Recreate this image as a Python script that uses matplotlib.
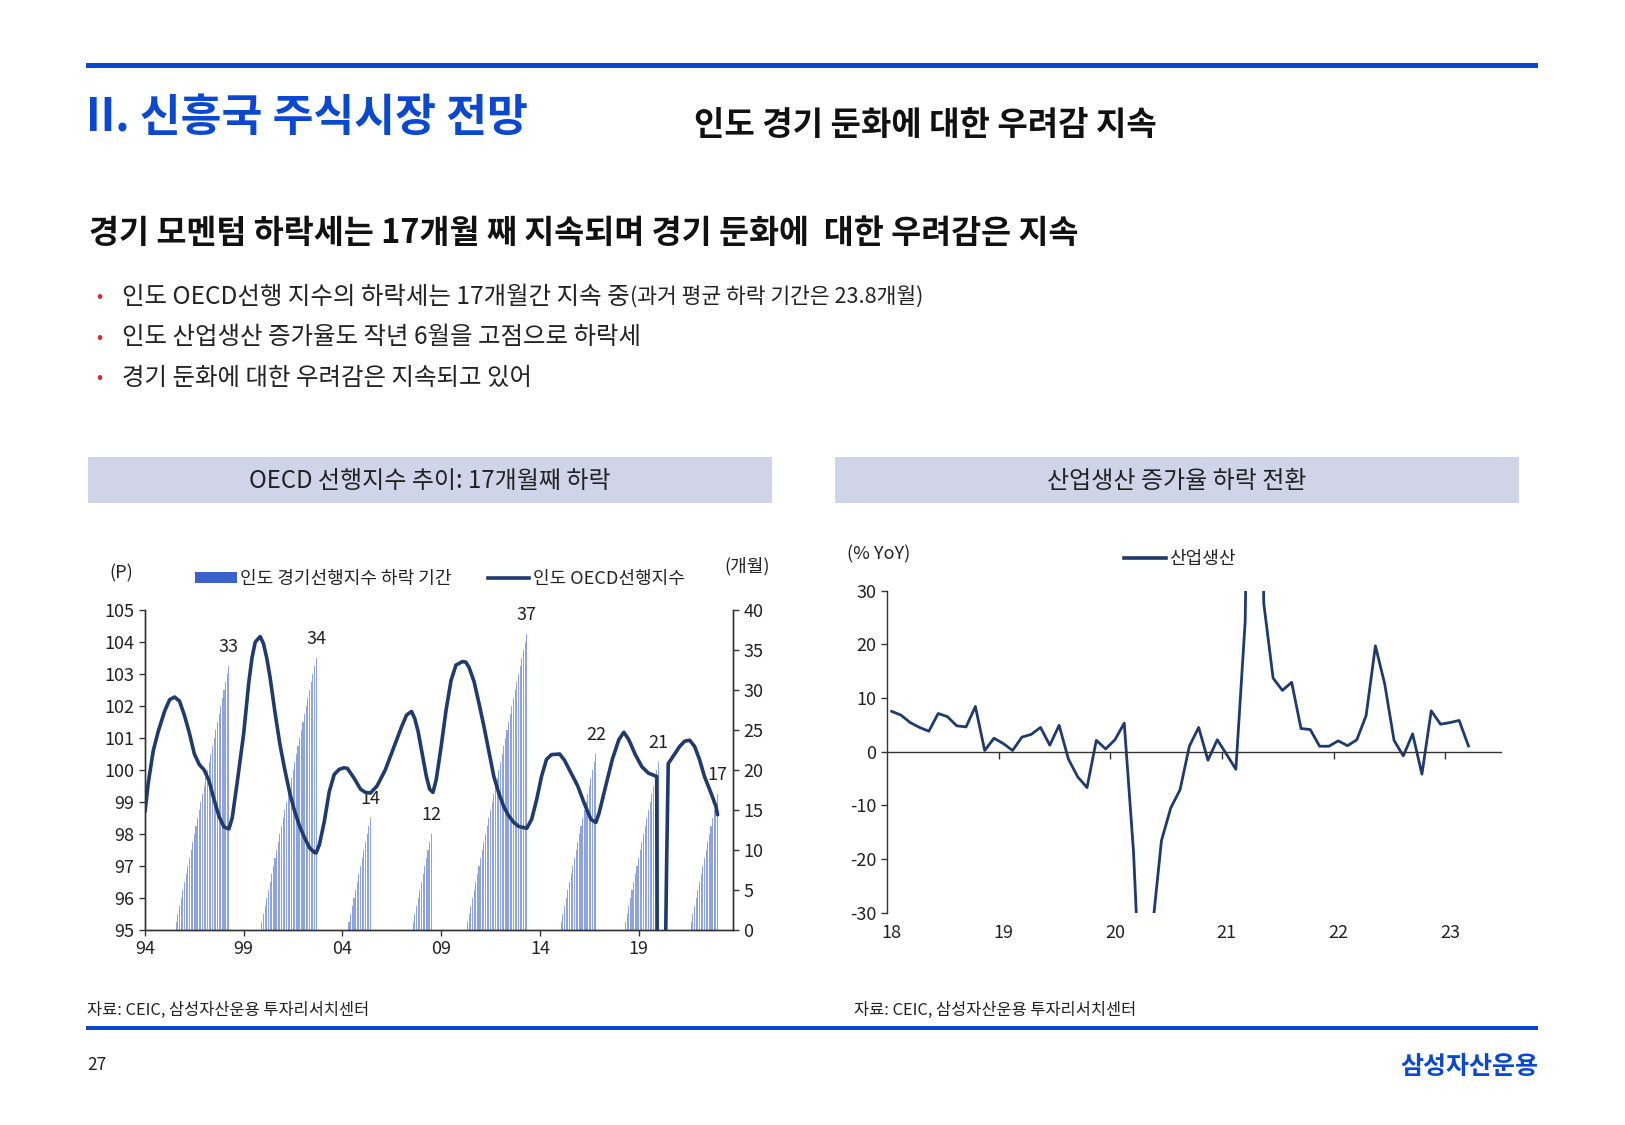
import matplotlib.pyplot as plt
import matplotlib.transforms as mtransforms
from matplotlib.patches import Rectangle, Patch
from matplotlib.lines import Line2D

plt.rcParams['font.family'] = ['Noto Sans CJK KR', 'DejaVu Sans']
plt.rcParams['axes.unicode_minus'] = False

W, H = 1625, 1125
BLUE = '#0b48d1'
NAVY = '#1f3a6e'
TXT = '#222222'

# ---- 왼쪽: 인도 OECD 선행지수 (월, 값) ----
cli_months = ['1994-01', '1994-03', '1994-06', '1994-09', '1995-01', '1995-04', '1995-07',
              '1995-10', '1996-01', '1996-04', '1996-07', '1996-10', '1997-01', '1997-04',
              '1997-07', '1997-10', '1998-01', '1998-04', '1998-06', '1998-09', '1999-01',
              '1999-04', '1999-06', '1999-08', '1999-11', '2000-01', '2000-03', '2000-05',
              '2000-08', '2000-11', '2001-02', '2001-05', '2001-08', '2001-11', '2002-02',
              '2002-05', '2002-08', '2002-09', '2002-11', '2003-02', '2003-05', '2003-08',
              '2003-11', '2004-02', '2004-04', '2004-08', '2004-12', '2005-03', '2005-06',
              '2005-10', '2006-03', '2006-08', '2007-01', '2007-04', '2007-07', '2007-09',
              '2007-11', '2008-01', '2008-04', '2008-06', '2008-08', '2008-10', '2009-01',
              '2009-04', '2009-07', '2009-10', '2010-02', '2010-04', '2010-06', '2010-09',
              '2010-12', '2011-03', '2011-06', '2011-09', '2011-12', '2012-03', '2012-06',
              '2012-09', '2012-12', '2013-03', '2013-05', '2013-08', '2013-11', '2014-02',
              '2014-05', '2014-08', '2015-01', '2015-04', '2015-07', '2015-12', '2016-04',
              '2016-08', '2016-11', '2017-01', '2017-05', '2017-09', '2018-01', '2018-04',
              '2018-07', '2018-11', '2019-03', '2019-07', '2019-12', '2020-01', '2020-03',
              '2020-05', '2020-06', '2020-07', '2020-10', '2021-02', '2021-05', '2021-08',
              '2021-11', '2022-02', '2022-05', '2022-09', '2022-12', '2023-01']
cli_values = [98.7, 99.6, 100.6, 101.2, 101.85, 102.2, 102.28,
              102.15, 101.7, 101.15, 100.5, 100.17, 100.0, 99.65,
              99.07, 98.55, 98.22, 98.16, 98.5, 99.6, 101.15,
              102.7, 103.5, 104.0, 104.17, 103.95, 103.5, 102.9,
              101.8, 100.8, 100.0, 99.28, 98.7, 98.24, 97.88,
              97.57, 97.42, 97.41, 97.67, 98.4, 99.33, 99.86,
              100.02, 100.07, 100.05, 99.75, 99.4, 99.3, 99.28,
              99.5, 100.0, 100.68, 101.36, 101.72, 101.83, 101.6,
              101.2, 100.64, 99.8, 99.4, 99.3, 99.7, 100.74,
              101.88, 102.8, 103.28, 103.39, 103.37, 103.2, 102.76,
              102.08, 101.36, 100.58, 99.8, 99.28, 98.86, 98.57,
              98.37, 98.24, 98.2, 98.18, 98.46, 99.07, 99.8,
              100.33, 100.48, 100.5, 100.3, 100.0, 99.5, 98.95,
              98.46, 98.36, 98.66, 99.5, 100.33, 100.95, 101.18,
              100.95, 100.48, 100.1, 99.9, 99.8, 80.0, 75.0,
              93.0, 97.0, 100.2, 100.43, 100.74, 100.9, 100.93,
              100.74, 100.33, 99.8, 99.28, 98.86, 98.6]

# 하락 기간: 정점 월, 하락 개월 수
down_peaks = ['1995-07', '1999-11', '2004-04', '2007-07', '2010-04', '2015-01', '2018-04', '2021-08']
down_months = [33, 34, 14, 12, 37, 22, 21, 17]

# ---- 오른쪽: 인도 산업생산 (% YoY), 2018-01 ~ 2023-03 ----
ip_years = ['18', '19', '20', '21', '22', '23']
ip_values = [7.5, 6.8, 5.4, 4.5, 3.8, 7.1, 6.5, 4.8, 4.6, 8.4, 0.2, 2.5,
             1.5, 0.2, 2.7, 3.2, 4.5, 1.2, 4.9, -1.4, -4.7, -6.7, 2.1, 0.5,
             2.2, 5.3, -18.7, -57.3, -33.4, -16.6, -10.5, -7.1, 1.0, 4.5, -1.6, 2.2,
             -0.5, -3.3, 24.2, 134.4, 27.6, 13.7, 11.4, 12.9, 4.3, 4.1, 1.0, 1.0,
             2.0, 1.1, 2.2, 6.7, 19.7, 12.6, 2.1, -0.8, 3.3, -4.2, 7.6, 5.1,
             5.4, 5.8, 1.05]


def ym(s):
    y, m = s.split('-')
    return int(y) + (int(m) - 1) / 12


def box(x0, y0, x1, y1):
    return [x0 / W, 1 - y1 / H, (x1 - x0) / W, (y1 - y0) / H]


def ftext(x, y, s, **kw):
    return fig.text(x / W, 1 - y / H, s, **kw)


fig = plt.figure(figsize=(W / 100, H / 100), dpi=100)

# 상단/하단 파란 선
for y0, y1 in [(63, 67.5), (1025.5, 1030)]:
    fig.add_artist(Rectangle((86 / W, 1 - y1 / H), (1538 - 86) / W, (y1 - y0) / H,
                             transform=fig.transFigure, facecolor=BLUE, edgecolor='none'))

ftext(86, 118, 'II. 신흥국 주식시장 전망', fontsize=32, fontweight='bold', color=BLUE, va='center')
ftext(694, 125, '인도 경기 둔화에 대한 우려감 지속', fontsize=23.8, fontweight='bold', color='#111111', va='center')
ftext(89, 234, '경기 모멘텀 하락세는 17개월 째 지속되며 경기 둔화에  대한 우려감은 지속',
      fontsize=23.5, fontweight='bold', color='#111111', va='center')

bullets = ['인도 OECD선행 지수의 하락세는 17개월간 지속 중', '인도 산업생산 증가율도 작년 6월을 고점으로 하락세',
           '경기 둔화에 대한 우려감은 지속되고 있어']
for i, b in enumerate(bullets):
    yy = 297 + 40.5 * i
    ftext(99, yy, '•', fontsize=13, color='#e0262f', va='center', ha='center')
    t = ftext(122, yy, b, fontsize=17.6, color=TXT, va='center')
    if i == 0:
        fig.canvas.draw()
        bb = t.get_window_extent()
        fig.text(bb.x1 / W, 1 - yy / H, '(과거 평균 하락 기간은 23.8개월)', fontsize=15.5, color=TXT, va='center')

# 차트 제목 박스
for (x0, x1), title in [((88, 772), 'OECD 선행지수 추이: 17개월째 하락'), ((835, 1519), '산업생산 증가율 하락 전환')]:
    fig.add_artist(Rectangle((x0 / W, 1 - 503.5 / H), (x1 - x0) / W, 46.5 / H,
                             transform=fig.transFigure, facecolor='#cfd4e8', edgecolor='none'))
    ftext((x0 + x1) / 2, 481, title, fontsize=17.3, color=TXT, ha='center', va='center')

# ---- 왼쪽 차트 ----
ax = fig.add_axes(box(145, 610, 733, 930))
ax2 = ax.twinx()
ax.set_zorder(ax2.get_zorder() + 1)
ax.patch.set_visible(False)

for p, n in zip(down_peaks, down_months):
    xs = [ym(p) + k / 12 for k in range(1, n + 1)]
    hs = list(range(1, n + 1))
    ax2.bar(xs, hs, width=0.055, color='#8ea4e0', edgecolor='none', align='center')
    ax2.text(xs[-1], n + 1.2, str(n), ha='center', va='bottom', fontsize=13, color=TXT)

ax.plot([ym(m) for m in cli_months], cli_values, color=NAVY, lw=2.6, solid_joinstyle='round',
        solid_capstyle='round')

ax.set_xlim(1994, 2023.78)
ax.set_ylim(95, 105)
ax2.set_ylim(0, 40)
ax.set_yticks(range(95, 106))
ax2.set_yticks(range(0, 41, 5))
xt = [1994, 1999, 2004, 2009, 2014, 2019]
ax.set_xticks(xt)
ax.set_xticklabels([str(y)[2:] for y in xt])
for a in (ax, ax2):
    a.spines['top'].set_visible(False)
    for s in a.spines.values():
        s.set_color('#333333')
        s.set_linewidth(1)
    a.tick_params(length=4, width=1, color='#333333', labelsize=13, labelcolor=TXT)

ftext(121, 573, '(P)', fontsize=13, color=TXT, ha='center', va='center')
ftext(747, 566, '(개월)', fontsize=13, color=TXT, ha='center', va='center')

h_bar = Patch(facecolor='#3b62cc', edgecolor='none')
h_line = Line2D([], [], color=NAVY, lw=2.6)
ax.legend([h_bar, h_line], ['인도 경기선행지수 하락 기간', '인도 OECD선행지수'], loc='center',
          bbox_to_anchor=(440 / W, 1 - 579 / H), bbox_transform=fig.transFigure, ncol=2,
          frameon=False, fontsize=13, handlelength=2.3, handleheight=0.5, handletextpad=0.2,
          columnspacing=2.0, labelcolor=TXT)

# ---- 오른쪽 차트 ----
bx = fig.add_axes(box(887, 590.5, 1501, 912.7))
idx = list(range(len(ip_values)))
bx.plot(idx, ip_values, color=NAVY, lw=2.0, solid_joinstyle='round')
bx.set_xlim(-0.5, 65.5)
bx.set_ylim(-30, 30)
bx.set_yticks(range(-30, 31, 10))
bx.spines['top'].set_visible(False)
bx.spines['right'].set_visible(False)
bx.spines['bottom'].set_position(('data', 0))
for s in ('left', 'bottom'):
    bx.spines[s].set_color('#333333')
    bx.spines[s].set_linewidth(1)
bx.set_xticks([12 * k - 0.5 for k in range(1, len(ip_years))])
bx.tick_params(axis='x', labelbottom=False, length=5, width=1, color='#333333')
bx.tick_params(axis='y', length=4, width=1, color='#333333', labelsize=13, labelcolor=TXT)
trans = mtransforms.blended_transform_factory(bx.transData, bx.transAxes)
for k, lab in enumerate(ip_years):
    bx.text(12 * k, -0.035, lab, transform=trans, ha='center', va='top', fontsize=13, color=TXT)

ftext(847, 554, '(% YoY)', fontsize=13, color=TXT, va='center')
bx.legend([Line2D([], [], color=NAVY, lw=2.6)], ['산업생산'], loc='center',
          bbox_to_anchor=(1180 / W, 1 - 559 / H), bbox_transform=fig.transFigure,
          frameon=False, fontsize=13, handlelength=2.3, handletextpad=0.2, labelcolor=TXT)

# 출처, 페이지
ftext(87, 1010, '자료: CEIC, 삼성자산운용 투자리서치센터', fontsize=11.8, color=TXT, va='center')
ftext(854, 1010, '자료: CEIC, 삼성자산운용 투자리서치센터', fontsize=11.8, color=TXT, va='center')
ftext(87, 1065, '27', fontsize=12.5, color=TXT, va='center')
ftext(1538, 1067, '삼성자산운용', fontsize=18, fontweight='bold', color=BLUE, ha='right', va='center')

fig.savefig('out.png', dpi=100)
